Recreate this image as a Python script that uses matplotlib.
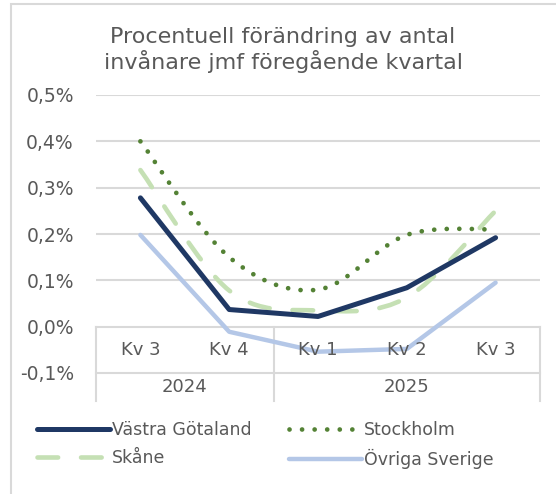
import numpy as np
import matplotlib.pyplot as plt
from matplotlib.path import Path
from matplotlib.patches import PathPatch, Rectangle
from matplotlib.lines import Line2D

# ==========================
# Data
# ==========================

quarters = ["Kv 3", "Kv 4", "Kv 1", "Kv 2", "Kv 3"]
years = ["2024", "2025"]
year_spans = [(0, 1), (2, 4)]

vastra_gotaland = [0.278, 0.037, 0.022, 0.084, 0.192]
stockholm = [0.400, 0.150, 0.080, 0.198, 0.210]
skane = [0.338, 0.078, 0.035, 0.063, 0.250]
ovriga_sverige = [0.198, -0.011, -0.054, -0.048, 0.095]

yticks = [-0.1, 0.0, 0.1, 0.2, 0.3, 0.4, 0.5]

text_color = "#595959"
grid_color = "#d9d9d9"

plt.rcParams['font.family'] = ['DejaVu Sans']


def smooth_path(xs, ys):
    # Bezier path through the points (same idea as Excel's smoothed line)
    xs = np.asarray(xs, dtype=float)
    ys = np.asarray(ys, dtype=float)
    n = len(xs)
    verts = [(xs[0], ys[0])]
    codes = [Path.MOVETO]
    for i in range(n - 1):
        p0 = (xs[max(i - 1, 0)], ys[max(i - 1, 0)])
        p1 = (xs[i], ys[i])
        p2 = (xs[i + 1], ys[i + 1])
        p3 = (xs[min(i + 2, n - 1)], ys[min(i + 2, n - 1)])
        c1 = (p1[0] + (p2[0] - p0[0]) / 6, p1[1] + (p2[1] - p0[1]) / 6)
        c2 = (p2[0] - (p3[0] - p1[0]) / 6, p2[1] - (p3[1] - p1[1]) / 6)
        verts += [c1, c2, p2]
        codes += [Path.CURVE4] * 3
    return Path(verts, codes)


# ==========================
# Figure
# ==========================

fig = plt.figure(figsize=(5.56, 4.94), dpi=100)

# chart frame (only top and left edge visible)
fig.patches.append(
    Rectangle(
        (11 / 556, -0.05), 1.2, 1 - 4 / 494 + 0.05,
        transform=fig.transFigure,
        fill=False,
        edgecolor="#d9d9d9",
        linewidth=1.5
    )
)

ax = fig.add_axes([96 / 556, 1 - 373 / 494, 444 / 556, 278 / 494])

x = np.arange(len(quarters))

ax.set_xlim(-0.5, len(quarters) - 0.5)
ax.set_ylim(-0.1, 0.5)

# gridlines
for t in yticks[2:]:
    ax.axhline(t, color=grid_color, linewidth=1.5, zorder=0)

# ==========================
# Series
# ==========================

dot_style = (0, (0.01, 2.65))
dash_style = (0, (4.5, 5.0))

ax.plot(
    x, ovriga_sverige,
    color="#b4c7e7",
    linewidth=3.2,
    solid_capstyle="round",
    solid_joinstyle="round",
    zorder=2
)

ax.add_patch(
    PathPatch(
        smooth_path(x, skane),
        fill=False,
        edgecolor="#c5e0b4",
        linewidth=3.3,
        linestyle=dash_style,
        capstyle="round",
        zorder=3
    )
)

ax.plot(
    x, vastra_gotaland,
    color="#1f3864",
    linewidth=3.6,
    solid_capstyle="round",
    solid_joinstyle="round",
    zorder=4
)

ax.add_patch(
    PathPatch(
        smooth_path(x, stockholm),
        fill=False,
        edgecolor="#548235",
        linewidth=3.4,
        linestyle=dot_style,
        capstyle="round",
        zorder=5
    )
)

# ==========================
# Axes styling
# ==========================

for s in ax.spines.values():
    s.set_visible(False)

ax.set_yticks(yticks)
ax.set_yticklabels(
    [f"{t:.1f}%".replace(".", ",") for t in yticks],
    color=text_color,
    fontsize=13.5
)
ax.tick_params(axis="y", length=0, pad=16)
ax.set_xticks([])

# category table under the zero line
tbl = dict(color=grid_color, linewidth=1.5, clip_on=False, zorder=1)
ax.plot([-0.5, 4.5], [0, 0], **tbl)
ax.plot([-0.5, 4.5], [-0.1, -0.1], **tbl)
for xv in [-0.5, 1.5, 4.5]:
    ax.plot([xv, xv], [0, -0.16], **tbl)

for i, q in enumerate(quarters):
    ax.text(
        i, -0.05, q,
        ha="center", va="center",
        color=text_color, fontsize=13
    )

for yr, (a, b) in zip(years, year_spans):
    ax.text(
        (a + b) / 2, -0.131, yr,
        ha="center", va="center",
        color=text_color, fontsize=13
    )

# ==========================
# Title
# ==========================

fig.text(
    283 / 556, 1 - 50 / 494,
    "Procentuell förändring av antal\ninvånare jmf föregående kvartal",
    ha="center", va="center",
    color=text_color,
    fontsize=16,
    linespacing=1.2
)

# ==========================
# Legend
# ==========================

handles = [
    Line2D([], [], color="#1f3864", linewidth=3.6, solid_capstyle="round"),
    Line2D([], [], color="#c5e0b4", linewidth=3.3,
           linestyle=dash_style, dash_capstyle="round"),
    Line2D([], [], color="#548235", linewidth=3.4,
           linestyle=dot_style, dash_capstyle="round"),
    Line2D([], [], color="#b4c7e7", linewidth=3.2, solid_capstyle="round"),
]
labels = ["Västra Götaland", "Skåne", "Stockholm", "Övriga Sverige"]

leg = fig.legend(
    handles, labels,
    ncol=2,
    loc="center left",
    bbox_to_anchor=(30 / 556, 1 - 445 / 494),
    frameon=False,
    fontsize=12.5,
    handlelength=4.2,
    handletextpad=0.1,
    columnspacing=2.2,
    labelspacing=0.6,
    borderaxespad=0
)
for t in leg.get_texts():
    t.set_color(text_color)

fig.savefig("out.png", dpi=100)
